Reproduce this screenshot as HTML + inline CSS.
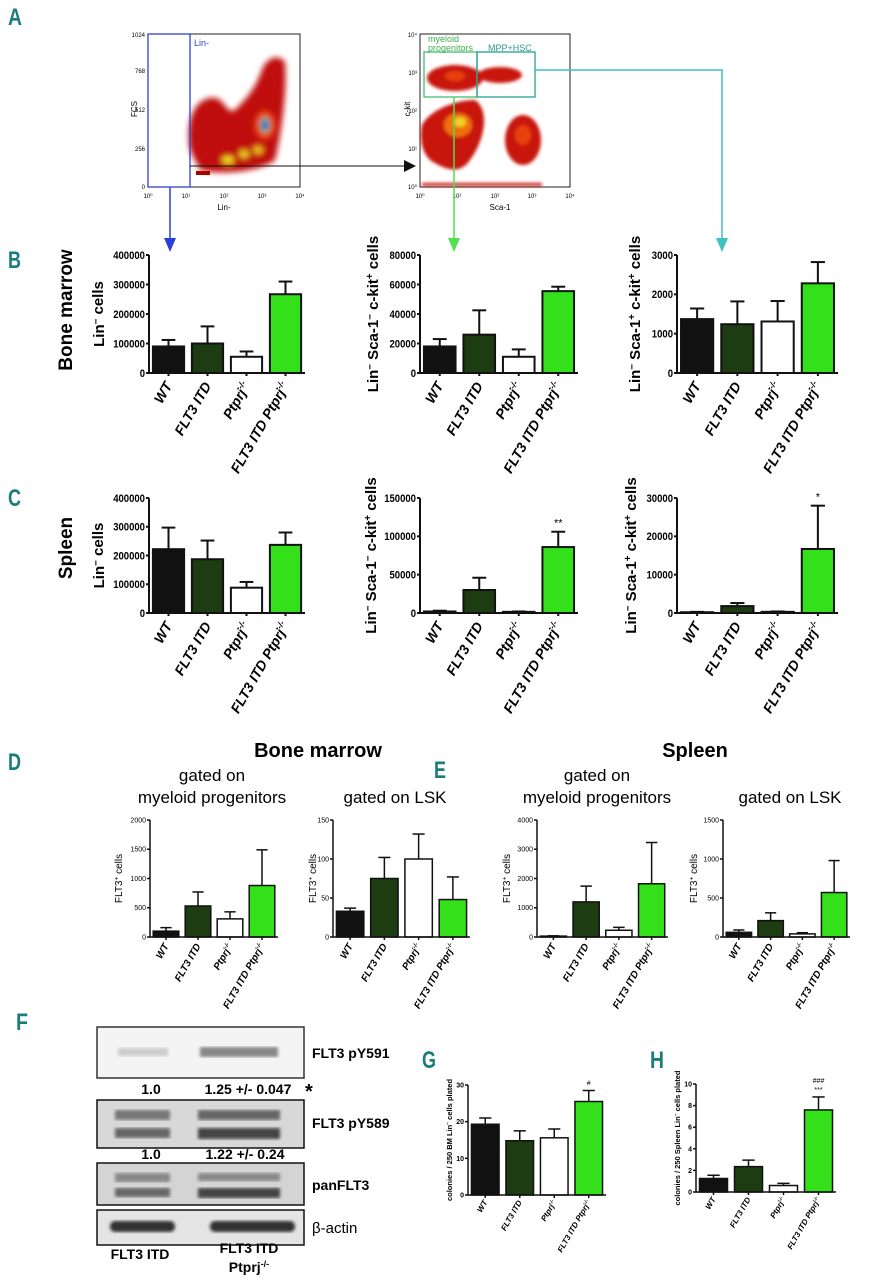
<!DOCTYPE html>
<html><head><meta charset="utf-8"><style>
body{margin:0;background:#fff}
svg{display:block}
text{font-family:"Liberation Sans",sans-serif}
.lt{fill:#1b7d7a;font-size:24px;font-weight:bold;font-family:"Liberation Sans",sans-serif}
</style></head><body>
<svg id="fig" width="871" height="1280" viewBox="0 0 871 1280" xmlns="http://www.w3.org/2000/svg">
<defs>
<filter id="bl" x="-20%" y="-20%" width="140%" height="140%"><feGaussianBlur stdDeviation="3"/></filter>
<filter id="bl2"><feGaussianBlur stdDeviation="1.5"/></filter>
</defs>
<text class="lt" x="8" y="25" textLength="14" lengthAdjust="spacingAndGlyphs">A</text>
<text class="lt" x="8" y="268" textLength="13" lengthAdjust="spacingAndGlyphs">B</text>
<text class="lt" x="8" y="506" textLength="13" lengthAdjust="spacingAndGlyphs">C</text>
<text class="lt" x="8" y="770" textLength="13" lengthAdjust="spacingAndGlyphs">D</text>
<text class="lt" x="434" y="778" textLength="12" lengthAdjust="spacingAndGlyphs">E</text>
<text class="lt" x="16" y="1030" textLength="12" lengthAdjust="spacingAndGlyphs">F</text>
<text class="lt" x="422" y="1068" textLength="14" lengthAdjust="spacingAndGlyphs">G</text>
<text class="lt" x="650" y="1068" textLength="14" lengthAdjust="spacingAndGlyphs">H</text>

<g>
<rect x="148" y="34" width="152" height="153" fill="#fff" stroke="#222"/>
<g filter="url(#bl)">
<path d="M190,150 C185,120 195,100 210,98 C225,95 225,115 235,110 C245,100 255,90 262,70 C268,55 280,55 285,62 C287,90 282,130 275,160 C260,172 220,175 200,170Z" fill="#c01008"/>
<ellipse cx="265" cy="125" rx="10" ry="14" fill="#f04010"/>
<ellipse cx="265" cy="125" rx="5" ry="8" fill="#30c0a0"/>
<ellipse cx="265" cy="125" rx="3" ry="4" fill="#2040d0"/>
<ellipse cx="228" cy="160" rx="6" ry="4" fill="#f0e020"/>
<ellipse cx="244" cy="154" rx="5" ry="4" fill="#f0d020"/>
<ellipse cx="258" cy="150" rx="5" ry="4" fill="#f0c020"/>
</g>
<rect x="196" y="171" width="14" height="4" fill="#a00"/>
<rect x="148" y="34" width="42" height="153" fill="none" stroke="#3040d0" stroke-width="1.3"/>
<text x="194" y="46" font-size="9" fill="#3040d0">Lin-</text>
<text x="137" y="109" font-size="8" transform="rotate(-90 137 109)" text-anchor="middle">FCS</text>
<text x="145" y="37" font-size="6" text-anchor="end">1024</text>
<text x="145" y="73" font-size="6" text-anchor="end">768</text>
<text x="145" y="112" font-size="6" text-anchor="end">512</text>
<text x="145" y="151" font-size="6" text-anchor="end">256</text>
<text x="145" y="189" font-size="6" text-anchor="end">0</text>
<text x="148" y="198" font-size="6" text-anchor="middle">10⁰</text>
<text x="186" y="198" font-size="6" text-anchor="middle">10¹</text>
<text x="224" y="198" font-size="6" text-anchor="middle">10²</text>
<text x="262" y="198" font-size="6" text-anchor="middle">10³</text>
<text x="300" y="198" font-size="6" text-anchor="middle">10⁴</text>
<text x="224" y="210" font-size="8" text-anchor="middle">Lin-</text>
<line x1="190" y1="166" x2="406" y2="166" stroke="#111"/>
<path d="M404,160 L416,166 L404,172Z" fill="#111"/>
</g>
<g>
<rect x="420" y="34" width="150" height="153" fill="#fff" stroke="#222"/>
<g filter="url(#bl2)">
<ellipse cx="455" cy="78" rx="28" ry="13" fill="#c81810"/>
<ellipse cx="500" cy="75" rx="22" ry="8" fill="#c81810"/>
<ellipse cx="455" cy="76" rx="10" ry="5" fill="#e84010"/>
<path d="M422,125 C430,110 455,100 475,100 C490,110 485,140 470,160 C460,175 445,170 430,160 C420,150 420,135 422,125Z" fill="#c81810"/>
<ellipse cx="458" cy="125" rx="14" ry="12" fill="#f07010"/>
<ellipse cx="460" cy="122" rx="6" ry="5" fill="#f0d020"/>
<ellipse cx="523" cy="140" rx="18" ry="25" fill="#c81810"/>
<ellipse cx="523" cy="135" rx="8" ry="10" fill="#e84010"/>
<rect x="422" y="183" width="120" height="3" fill="#c81810"/>
</g>
<rect x="424" y="52" width="53" height="45" fill="none" stroke="#3fc070" stroke-width="1.3"/>
<rect x="477" y="52" width="58" height="45" fill="none" stroke="#2aa090" stroke-width="1.3"/>
<text x="428" y="42" font-size="9" fill="#3fb050">myeloid</text>
<text x="428" y="51" font-size="9" fill="#3fb050">progenitors</text>
<text x="488" y="51" font-size="9" fill="#2a9a8a">MPP+HSC</text>
<text x="410" y="109" font-size="8" transform="rotate(-90 410 109)" text-anchor="middle">c-kit</text>
<text x="417" y="37" font-size="6" text-anchor="end">10⁴</text>
<text x="417" y="75" font-size="6" text-anchor="end">10³</text>
<text x="417" y="113" font-size="6" text-anchor="end">10²</text>
<text x="417" y="151" font-size="6" text-anchor="end">10¹</text>
<text x="417" y="189" font-size="6" text-anchor="end">10⁰</text>
<text x="420" y="198" font-size="6" text-anchor="middle">10⁰</text>
<text x="457" y="198" font-size="6" text-anchor="middle">10¹</text>
<text x="495" y="198" font-size="6" text-anchor="middle">10²</text>
<text x="532" y="198" font-size="6" text-anchor="middle">10³</text>
<text x="570" y="198" font-size="6" text-anchor="middle">10⁴</text>
<text x="500" y="210" font-size="8" text-anchor="middle">Sca-1</text>
</g>
<g>
<line x1="170" y1="187" x2="170" y2="240" stroke="#2a40d8" stroke-width="1.5"/>
<path d="M164,238 L176,238 L170,252Z" fill="#2a40d8"/>
<line x1="454" y1="97" x2="454" y2="240" stroke="#50e050" stroke-width="1.5"/>
<path d="M448,238 L460,238 L454,252Z" fill="#50e050"/>
<polyline points="535,70 722,70 722,240" fill="none" stroke="#40c0c0" stroke-width="1.5"/>
<path d="M716,238 L728,238 L722,252Z" fill="#40c0c0"/>
</g>
<text x="72" y="310" font-size="19" font-weight="bold" transform="rotate(-90 72 310)" text-anchor="middle">Bone marrow</text>
<text x="72" y="548" font-size="19" font-weight="bold" transform="rotate(-90 72 548)" text-anchor="middle">Spleen</text>
<g>
<text x="318" y="757" font-size="20" font-weight="bold" text-anchor="middle">Bone marrow</text>
<text x="212" y="781" font-size="17" text-anchor="middle">gated on</text>
<text x="212" y="803" font-size="17" text-anchor="middle">myeloid progenitors</text>
<text x="395" y="803" font-size="17" text-anchor="middle">gated on LSK</text>
<text x="695" y="757" font-size="20" font-weight="bold" text-anchor="middle">Spleen</text>
<text x="597" y="781" font-size="17" text-anchor="middle">gated on</text>
<text x="597" y="803" font-size="17" text-anchor="middle">myeloid progenitors</text>
<text x="790" y="803" font-size="17" text-anchor="middle">gated on LSK</text>
</g>
<g>
<rect x="97" y="1027" width="207" height="51" fill="#f4f4f4" stroke="#333" stroke-width="1.5"/>
<rect x="118" y="1048" width="50" height="8" fill="#ccc" filter="url(#bl2)"/>
<rect x="200" y="1047" width="78" height="10" fill="#888" filter="url(#bl2)"/>
<rect x="97" y="1100" width="207" height="48" fill="#d8d8d8" stroke="#111" stroke-width="1.5"/>
<rect x="115" y="1110" width="55" height="10" fill="#777" filter="url(#bl2)"/>
<rect x="115" y="1128" width="55" height="10" fill="#666" filter="url(#bl2)"/>
<rect x="198" y="1110" width="82" height="10" fill="#666" filter="url(#bl2)"/>
<rect x="198" y="1128" width="82" height="11" fill="#444" filter="url(#bl2)"/>
<rect x="97" y="1163" width="207" height="42" fill="#d4d4d4" stroke="#111" stroke-width="1.5"/>
<rect x="115" y="1173" width="55" height="9" fill="#888" filter="url(#bl2)"/>
<rect x="115" y="1188" width="55" height="9" fill="#666" filter="url(#bl2)"/>
<rect x="198" y="1173" width="82" height="8" fill="#888" filter="url(#bl2)"/>
<rect x="198" y="1188" width="82" height="10" fill="#444" filter="url(#bl2)"/>
<rect x="97" y="1210" width="207" height="35" fill="#e4e4e4" stroke="#111" stroke-width="1.5"/>
<rect x="110" y="1221" width="65" height="11" rx="5" fill="#333" filter="url(#bl2)"/>
<rect x="210" y="1221" width="85" height="11" rx="5" fill="#333" filter="url(#bl2)"/>
<g font-weight="bold" font-size="14">
<text x="312" y="1058">FLT3 pY591</text>
<text x="312" y="1128">FLT3 pY589</text>
<text x="312" y="1190">panFLT3</text>
<text x="312" y="1233" font-weight="normal" font-size="15">β-actin</text>
<text x="151" y="1094" text-anchor="middle">1.0</text>
<text x="248" y="1094" text-anchor="middle">1.25 +/- 0.047</text>
<text x="305" y="1098" font-size="20">*</text>
<text x="151" y="1159" text-anchor="middle">1.0</text>
<text x="245" y="1159" text-anchor="middle">1.22 +/- 0.24</text>
<text x="140" y="1259" text-anchor="middle">FLT3 ITD</text>
<text x="249" y="1253" text-anchor="middle">FLT3 ITD</text>
<text x="249" y="1272" text-anchor="middle">Ptprj<tspan font-size="9" dy="-5">-/-</tspan></text>
</g>
</g>
<g id="charts"></g>
</svg>
<script>
const categories = ["WT","FLT3 ITD","Ptprj","FLT3 ITD Ptprj"];
const colors = ["#111","#1e3c12","#fff","#33e01a"];
const b1Values = [90000,100000,55000,267000];
const b1Errors = [112000,158000,73000,310000];
const b1Ticks = [0,100000,200000,300000,400000];
const b2Values = [18000,26000,11000,55500];
const b2Errors = [23000,42500,16000,58500];
const b2Ticks = [0,20000,40000,60000,80000];
const b3Values = [1370,1240,1310,2280];
const b3Errors = [1640,1820,1830,2820];
const b3Ticks = [0,1000,2000,3000];
const c1Values = [222000,187000,88000,237000];
const c1Errors = [297000,252000,108000,280000];
const c1Ticks = [0,100000,200000,300000,400000];
const c2Values = [2000,30000,1500,86000];
const c2Errors = [3000,46000,2000,106000];
const c2Ticks = [0,50000,100000,150000];
const c3Values = [200,1800,300,16700];
const c3Errors = [300,2600,400,28000];
const c3Ticks = [0,10000,20000,30000];
const d1Values = [100,530,310,880];
const d1Errors = [160,770,430,1490];
const d1Ticks = [0,500,1000,1500,2000];
const d2Values = [33,75,100,48];
const d2Errors = [37,102,132,77];
const d2Ticks = [0,50,100,150];
const e1Values = [30,1200,230,1820];
const e1Errors = [40,1740,330,3230];
const e1Ticks = [0,1000,2000,3000,4000];
const e2Values = [60,210,40,570];
const e2Errors = [90,310,55,980];
const e2Ticks = [0,500,1000,1500];
const gValues = [19.3,14.8,15.6,25.5];
const gErrors = [21,17.5,18,28.5];
const gTicks = [0,10,20,30];
const hValues = [1.25,2.35,0.6,7.6];
const hErrors = [1.55,2.95,0.8,8.8];
const hTicks = [0,2,4,6,8,10];

const NS="http://www.w3.org/2000/svg";
const root=document.getElementById('charts');
function el(tag,attrs,parent){const e=document.createElementNS(NS,tag);for(const k in attrs)e.setAttribute(k,attrs[k]);(parent||root).appendChild(e);return e;}

function chart(name,o,values,errors,ticks,sig){
  const g=el('g',{});
  
  
  const max=ticks[ticks.length-1];
  const y=v=>o.y0-(v/max)*(o.y0-o.yt);
  const step=(o.x1-o.x0)/4;
  const x=i=>o.x0+step*(i+0.5);
  const bw=step*o.bwf;
  const sw=o.sw;
  values.forEach((v,i)=>{
    const top=y(errors[i]);
    const ln=el('line',{x1:x(i),x2:x(i),y1:y(v),y2:top,stroke:'#111','stroke-width':sw},g);
    
    
    el('line',{x1:x(i)-bw*0.22,x2:x(i)+bw*0.22,y1:top,y2:top,stroke:'#111','stroke-width':sw},g);
    const r=el('rect',{x:x(i)-bw/2,y:y(v),width:bw,height:Math.max(0.5,o.y0-y(v)),fill:colors[i],stroke:'#111','stroke-width':sw},g);
    
    
  });
  el('line',{x1:o.x0,x2:o.x0,y1:o.yt,y2:o.y0+sw/2,stroke:'#111','stroke-width':sw},g);
  el('line',{x1:o.x0,x2:o.x1,y1:o.y0,y2:o.y0,stroke:'#111','stroke-width':sw},g);
  ticks.forEach(t=>{
    el('line',{x1:o.x0-3,x2:o.x0,y1:y(t),y2:y(t),stroke:'#111','stroke-width':sw},g);
    const s=String(t);
    const attrs={x:o.x0-4,y:y(t)+o.tf*0.35,'font-size':o.tf,'font-weight':o.tb?'bold':'normal','text-anchor':'end'};
    if(o.cw){attrs.textLength=s.length*o.cw;attrs.lengthAdjust='spacingAndGlyphs';}
    const tx=el('text',attrs,g);
    tx.textContent=s;
    
    
  });
  categories.forEach((c,i)=>{
    el('line',{x1:x(i),x2:x(i),y1:o.y0,y2:o.y0+3,stroke:'#111','stroke-width':sw},g);
    const lx=x(i)+o.lf*0.3, ly=o.y0+o.lf*0.9;
    const t=el('text',{x:lx,y:ly,'font-size':o.lf,'font-weight':'bold','font-style':'italic','text-anchor':'end',transform:`rotate(-60 ${lx} ${ly})`},g);
    
    
    t.appendChild(document.createTextNode(c));
    if(i>=2){const s=el('tspan',{'font-size':o.lf*0.6,dy:-o.lf*0.4},t);s.textContent='-/-';}
  });
  const tx=o.tx, ty=(o.y0+o.yt)/2;
  const yt=el('text',{x:tx,y:ty,'font-size':o.yf,'font-weight':o.yb?'bold':'normal','text-anchor':'middle',transform:`rotate(-90 ${tx} ${ty})`},g);
  
  
  o.title.forEach(p=>{const s=el('tspan',p[1]?{'font-size':o.yf*0.65,dy:-o.yf*0.35}:{dy:p[2]||0},yt);s.textContent=p[0];});
  if(sig){sig.forEach((s,k)=>{const t=el('text',{x:x(3),y:y(errors[3])-5-k*9,'font-size':o.tf,'text-anchor':'middle'},g);t.textContent=s;
    
    });}
}
const minus=[["Lin",0],["−",1],[" cells",0,4]];
const bigB={tf:11,tb:true,cw:5.3,lf:14,yf:15,yb:true,sw:2,bwf:0.8};
const lsk1=[["Lin",0],["−",1],[" Sca-1",0,5.25],["−",1],[" c-kit",0,5.25],["+",1],[" cells",0,5.25]];
const lsk2=[["Lin",0],["−",1],[" Sca-1",0,5.25],["+",1],[" c-kit",0,5.25],["+",1],[" cells",0,5.25]];
chart('chart-b-bm-lin',{...bigB,x0:149,x1:305,y0:373,yt:255,tx:104,title:minus},b1Values,b1Errors,b1Ticks);
chart('chart-b-bm-myeloid',{...bigB,x0:420,x1:578,y0:373,yt:255,tx:378,title:lsk1},b2Values,b2Errors,b2Ticks);
chart('chart-b-bm-lsk',{...bigB,x0:677,x1:838,y0:373,yt:255,tx:640,title:lsk2},b3Values,b3Errors,b3Ticks);
chart('chart-c-spleen-lin',{...bigB,x0:149,x1:305,y0:613,yt:498,tx:104,title:minus},c1Values,c1Errors,c1Ticks);
chart('chart-c-spleen-myeloid',{...bigB,x0:420,x1:578,y0:613,yt:498,tx:376,title:lsk1},c2Values,c2Errors,c2Ticks,["**"]);
chart('chart-c-spleen-lsk',{...bigB,x0:677,x1:838,y0:613,yt:498,tx:636,title:lsk2},c3Values,c3Errors,c3Ticks,["*"]);
const sm={tf:7,tb:false,lf:10,yf:10,yb:false,sw:1.5,bwf:0.8};
const flt=[["FLT3",0],["+",1],[" cells",0,3.5]];
chart('chart-d-bm-myeloid-flt3',{...sm,x0:150,x1:278,y0:937,yt:820,tx:122,title:flt},d1Values,d1Errors,d1Ticks);
chart('chart-d-bm-lsk-flt3',{...sm,x0:333,x1:470,y0:937,yt:820,tx:316,title:flt},d2Values,d2Errors,d2Ticks);
chart('chart-e-spleen-myeloid-flt3',{...sm,x0:537,x1:668,y0:937,yt:820,tx:510,title:flt},e1Values,e1Errors,e1Ticks);
chart('chart-e-spleen-lsk-flt3',{...sm,x0:723,x1:850,y0:937,yt:820,tx:697,title:flt},e2Values,e2Errors,e2Ticks);
const gs={tf:7,tb:true,lf:8,yf:7.5,yb:true,sw:1.5,bwf:0.8};
chart('chart-g-bm-colonies',{...gs,x0:468,x1:606,y0:1195,yt:1085,tx:452,title:[["colonies / 250 BM Lin",0],["−",1],[" cells plated",0,2.6]]},gValues,gErrors,gTicks,["#"]);
chart('chart-h-spleen-colonies',{...gs,x0:696,x1:836,y0:1192,yt:1084,tx:680,title:[["colonies / 250 Spleen Lin",0],["−",1],[" cells plated",0,2.6]]},hValues,hErrors,hTicks,["***","###"]);
</script>
</body></html>
